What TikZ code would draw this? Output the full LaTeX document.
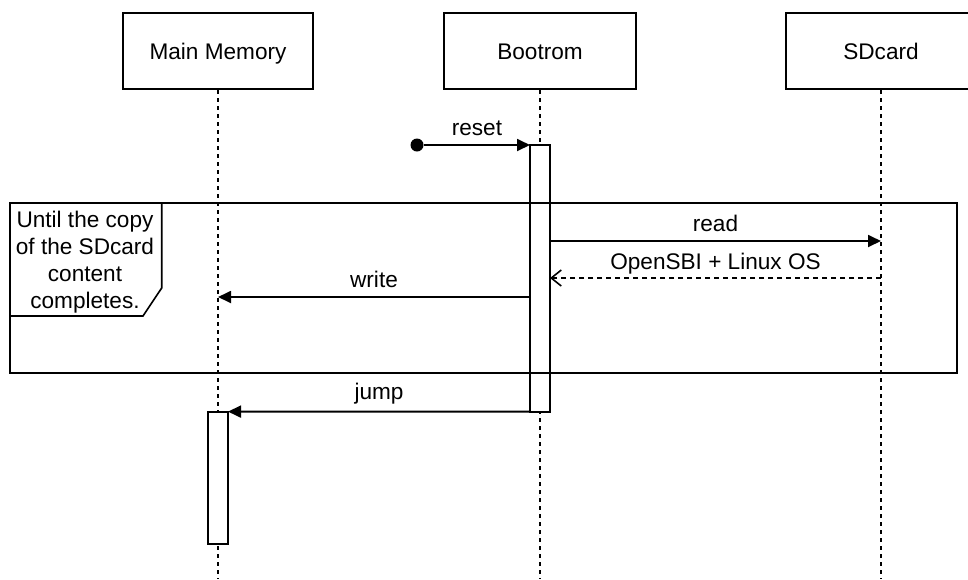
\documentclass[tikz,border=0pt]{standalone}
\usepackage{fontspec}
\setmainfont{Liberation Sans}
\usetikzlibrary{arrows.meta}

\begin{document}
\begin{tikzpicture}[x=0.5pt,y=-0.5pt,
    font=\fontsize{11.3}{13.5}\selectfont,
    party/.style={draw,line width=1pt,minimum width=95pt,minimum height=38pt,inner sep=0pt,text height=8.1pt,text depth=0pt},
    lifeline/.style={line width=0.7pt,dash pattern=on 2pt off 2pt},
    actbar/.style={draw,fill=white,line width=0.9pt,minimum width=10pt,inner sep=0pt,outer sep=0pt},
    msg/.style={line width=0.9pt,-{Triangle[length=6.5pt,width=6pt]}},
    reply/.style={line width=0.8pt,dash pattern=on 2.5pt off 2pt,-{Straight Barb[length=5pt,width=8pt]}},
    lbl/.style={anchor=base,yshift=5pt,inner sep=0pt}]
      \useasboundingbox (0,0) rectangle (968,579) ;
      % participants
      \node[party] (mem) at (218,51) {Main Memory} ;
      \node[party,minimum width=96pt] (rom) at (540,51) {Bootrom} ;
      \node[party] (sd) at (881,51) {SDcard} ;
      \coordinate (memend) at (218,579) ;
      \coordinate (romend) at (540,579) ;
      \coordinate (sdend) at (881,579) ;
      \draw[lifeline] (mem.south) -- (memend) ;
      \draw[lifeline] (rom.south) -- (romend) ;
      \draw[lifeline] (sd.south) -- (sdend) ;
      % activations
      \node[actbar,minimum height=133.3pt] (romact) at (540,278.3) {} ;
      \node[actbar,minimum height=66.2pt] (memact) at (218,477.8) {} ;
      \node[fill=black,circle,inner sep=0pt,minimum size=6.5pt] (start) at (417,145) {} ;
      \draw[msg] (start) -- (romact.north west) node[lbl,midway]{reset} ;
      % loop frame
      \node[draw,line width=1pt,minimum width=473.5pt,minimum height=85pt,inner sep=0pt] (loop) at (483.5,287.7) {} ;
      \coordinate (tagend) at (10,316) ;
      \draw[line width=0.8pt] (161.7,202.7) -- (161.7,288) -- (143,316) -- (tagend) ;
      \node[align=center,inner sep=0pt] (cond) at (85,262) {Until the copy\\of the SDcard\\content\\completes.} ;
      % messages
      \coordinate (sdread) at (881,241) ;
      \coordinate (sdret) at (881,278) ;
      \coordinate (memwr) at (218,297) ;
      \draw[msg] (romact.east |- sdread) -- (sdread) node[lbl,midway]{read} ;
      \draw[reply] (sdret) -- (romact.east |- sdret) node[lbl,midway,yshift=-0.5pt]{OpenSBI + Linux OS} ;
      \draw[msg] (romact.west |- memwr) -- (memwr) node[lbl,midway]{write} ;
      \draw[msg] (romact.south west) -- (memact.north east) node[lbl,midway,yshift=1pt]{jump} ;
\end{tikzpicture}
\end{document}
